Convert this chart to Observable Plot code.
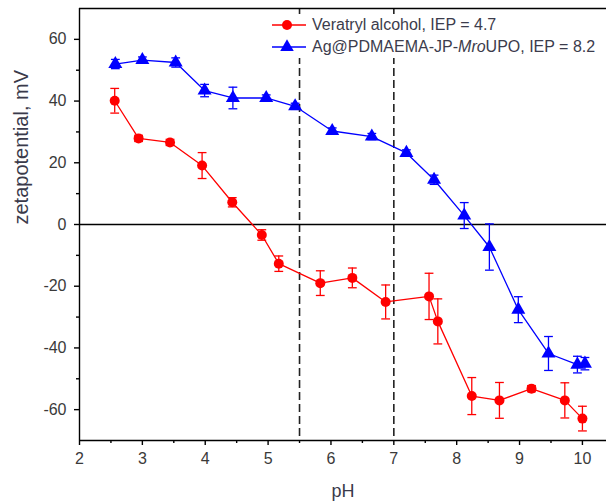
<!DOCTYPE html>
<html><head><meta charset="utf-8">
<script src="https://cdn.jsdelivr.net/npm/d3@7"></script>
<script src="https://cdn.jsdelivr.net/npm/@observablehq/plot@0.6"></script>
<style>
body{margin:0;background:#fff;font-family:"Liberation Sans",Arial,sans-serif}
#wrap{position:relative;width:606px;height:502px;overflow:hidden}
#legend{position:absolute;left:268px;top:14px;width:338px;height:44px;background:#fff;color:#3c3c4c;font-size:16px}
.row{position:absolute;left:0;height:20px;display:flex;align-items:center;white-space:nowrap}
.row svg{margin-right:4px;flex:none}
</style>
</head><body><div id="wrap"><div id="legend"></div></div>
<script>
// Data
const seriesNames = ["Veratryl alcohol, IEP = 4.7", "Ag@PDMAEMA-JP-MroUPO, IEP = 8.2"];
const phRed   = [2.56, 2.94, 3.44, 3.95, 4.43, 4.90, 5.17, 5.83, 6.34, 6.87, 7.56, 7.70, 8.24, 8.68, 9.19, 9.72, 10.00];
const zetaRed = [40.1, 27.9, 26.6, 19.1, 7.2, -3.4, -12.7, -19.0, -17.3, -25.1, -23.3, -31.4, -55.6, -57.0, -53.2, -57.0, -62.9];
const errRed  = [4.0, 1.0, 1.0, 4.2, 1.5, 1.7, 2.5, 4.0, 3.2, 5.5, 7.5, 7.3, 6.0, 5.8, 1.0, 5.7, 4.0];
const phBlue   = [2.57, 3.00, 3.53, 3.99, 4.44, 4.97, 5.43, 6.02, 6.65, 7.20, 7.64, 8.12, 8.52, 8.98, 9.46, 9.92, 10.04];
const zetaBlue = [52.0, 53.3, 52.5, 43.4, 41.0, 41.0, 38.3, 30.3, 28.5, 23.2, 14.5, 2.9, -7.3, -27.6, -41.8, -45.4, -45.1];
const errBlue  = [1.5, 1.0, 1.5, 2.0, 3.5, 1.0, 1.0, 1.0, 1.0, 1.0, 1.5, 4.2, 7.5, 4.2, 5.5, 2.7, 2.0];
const iepLines = [5.5, 7.0];
const xTicks = [2, 3, 4, 5, 6, 7, 8, 9, 10];
const xMinor = [2.5, 3.5, 4.5, 5.5, 6.5, 7.5, 8.5, 9.5];
const yTicks = [-60, -40, -20, 0, 20, 40, 60];
const yMinor = [-50, -30, -10, 10, 30, 50];
const xDomain = [2, 10.383];
const yDomain = [-70, 70];
const xLabel = "pH";
const yLabel = "zetapotential, mV";
const colors = ["#ff0000", "#0000ff"];

const red = phRed.map((x, i) => ({x, y: zetaRed[i], e: errRed[i]}));
const blue = phBlue.map((x, i) => ({x, y: zetaBlue[i], e: errBlue[i]}));
const cap = 0.07;

function errMarks(data, color) {
  return [
    Plot.ruleX(data, {x: "x", y1: d => d.y - d.e, y2: d => d.y + d.e, stroke: color, strokeWidth: 1.3}),
    Plot.link(data, {x1: d => d.x - cap, x2: d => d.x + cap, y1: d => d.y + d.e, y2: d => d.y + d.e, stroke: color, strokeWidth: 1.3}),
    Plot.link(data, {x1: d => d.x - cap, x2: d => d.x + cap, y1: d => d.y - d.e, y2: d => d.y - d.e, stroke: color, strokeWidth: 1.3})
  ];
}

const chart = Plot.plot({
  width: 606, height: 502,
  marginLeft: 79, marginRight: 0, marginTop: 8, marginBottom: 62,
  style: {fontFamily: "Liberation Sans, Arial, sans-serif", background: "#fff"},
  x: {domain: xDomain},
  y: {domain: yDomain},
  marks: [
    Plot.ruleX(iepLines, {stroke: "#222", strokeWidth: 1.6, strokeDasharray: "8,4"}),
    Plot.ruleY([0], {stroke: "#000", strokeWidth: 1.4}),
    Plot.ruleY([yDomain[1]], {stroke: "#000", strokeWidth: 1.4}),
    Plot.ruleY([yDomain[0]], {stroke: "#000", strokeWidth: 1.4}),
    Plot.ruleX([xDomain[0]], {stroke: "#000", strokeWidth: 1.4}),
    Plot.axisX({ticks: xTicks, tickSize: 5, tickPadding: 7, fontSize: 16, stroke: "#000", strokeWidth: 1.4, color: "#3a3a3a", tickFormat: d => String(d), label: null}),
    Plot.axisX({ticks: xMinor, tickSize: 3, stroke: "#000", strokeWidth: 1.4, tickFormat: () => "", label: null}),
    Plot.axisY({ticks: yTicks, tickSize: 5, tickPadding: 8, fontSize: 16, stroke: "#000", strokeWidth: 1.4, color: "#3a3a3a", tickFormat: d => String(d), label: null}),
    Plot.axisY({ticks: yMinor, tickSize: 3, stroke: "#000", strokeWidth: 1.4, tickFormat: () => "", label: null}),
    ...errMarks(red, colors[0]),
    ...errMarks(blue, colors[1]),
    Plot.line(red, {x: "x", y: "y", stroke: colors[0], strokeWidth: 1.3}),
    Plot.line(blue, {x: "x", y: "y", stroke: colors[1], strokeWidth: 1.3}),
    Plot.dot(red, {x: "x", y: "y", r: 5, fill: colors[0], symbol: "circle"}),
    Plot.dot(blue, {x: "x", y: "y", r: 5.2, fill: colors[1], symbol: "triangle"}),
    Plot.text([xLabel], {frameAnchor: "bottom", dy: 56, fontSize: 18, fill: "#3a3a4a"}),
    Plot.text([yLabel], {frameAnchor: "left", rotate: -90, dx: -58, fontSize: 20, fill: "#3a3a4a"})
  ]
});
const wrap = document.getElementById("wrap");
wrap.insertBefore(chart, wrap.firstChild);

// legend (inside the plot area)
const legend = document.getElementById("legend");
const sym = [
  c => `<circle cx="19" cy="10" r="5" fill="${c}"/>`,
  c => `<path d="${d3.symbol(d3.symbolTriangle, 80)()}" transform="translate(19,10)" fill="${c}"/>`
];
seriesNames.forEach((name, i) => {
  const row = document.createElement("div");
  row.className = "row";
  row.style.top = (i * 22 + 1) + "px";
  const label = i === 1 ? name.replace("Mro", "<i>Mro</i>") : name;
  row.innerHTML = `<svg width="40" height="20"><line x1="4" x2="38" y1="10" y2="10" stroke="${colors[i]}" stroke-width="1.5"/>${sym[i](colors[i])}</svg><span>${label}</span>`;
  legend.appendChild(row);
});
</script>
</body></html>
